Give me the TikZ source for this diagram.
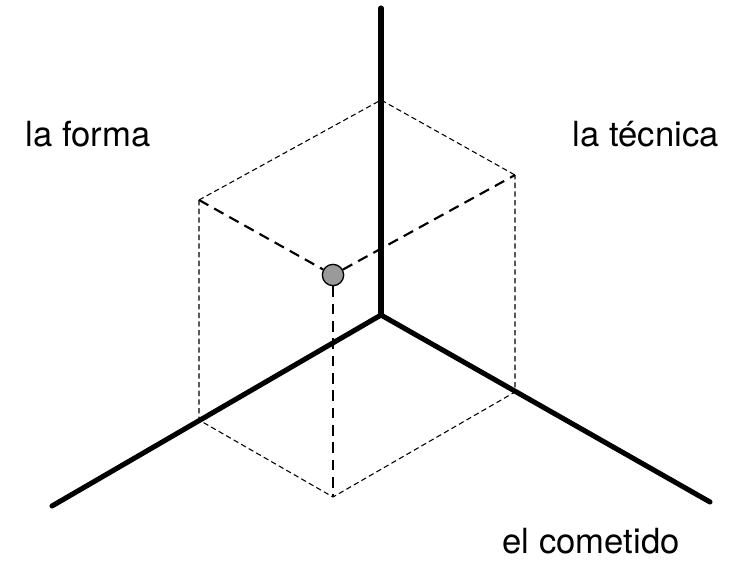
\documentclass[tikz,border=0pt]{standalone}
\usepackage{fontspec}
\setmainfont{TeX Gyre Heros}
\usepackage{xcolor}
\definecolor{balldot}{HTML}{9A9A9A}

\begin{document}
\begin{tikzpicture}[x=0.75pt, y=-0.75pt,
  axis/.style={black, line width=3.8pt, line cap=round},
  cubeedge/.style={black, line width=0.8pt, dash pattern=on 4pt off 2.5pt},
  toedge/.style={black, line width=1.6pt, dash pattern=on 8pt off 5pt},
  label/.style={anchor=base west, font=\fontsize{26}{30}\selectfont}]
  \useasboundingbox (0,0) rectangle (737,565);

  % axes
  \coordinate (origin) at (381,315);
  \coordinate (topend) at (381,8);
  \coordinate (leftend) at (52,506);
  \coordinate (rightend) at (710,502);

  % cube corners
  \coordinate (backtop) at (381,100);
  \coordinate (upleft) at (199,200);
  \coordinate (upright) at (515,175);
  \coordinate (lowleft) at (199,420);
  \coordinate (lowright) at (515,392);
  \coordinate (front) at (333,497);

  \draw[cubeedge] (upleft) -- (backtop) -- (upright);
  \draw[cubeedge] (upleft) -- (lowleft) -- (front) -- (lowright) -- (upright);

  \draw[axis] (origin) -- (topend);
  \draw[axis] (origin) -- (leftend);
  \draw[axis] (origin) -- (rightend);

  \node[circle, draw=black, line width=1pt, fill=balldot, minimum size=16pt, inner sep=0pt] (point) at (333,275) {};
  \draw[toedge] (upleft) -- (point);
  \draw[toedge] (point) -- (upright);
  \draw[toedge] (point) -- (front);

  \node[label] (forma) at (21,146) {la forma};
  \node[label] (tecnica) at (568,146) {la técnica};
  \node[label] (cometido) at (498,553) {el cometido};
\end{tikzpicture}
\end{document}
